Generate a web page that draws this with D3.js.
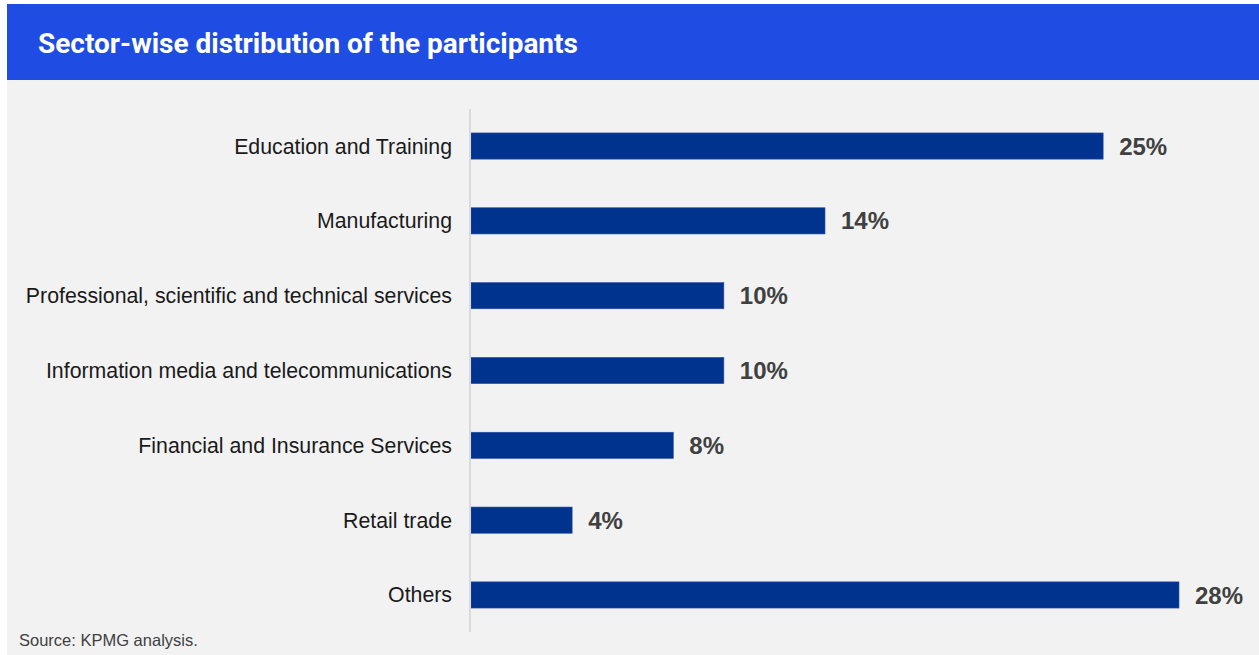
<!DOCTYPE html>
<html>
<head>
<meta charset="utf-8">
<script src="https://cdn.jsdelivr.net/npm/d3@7"></script>
<style>
  html, body { margin: 0; padding: 0; background: #ffffff; }
  svg { display: block; }
</style>
</head>
<body>
<svg id="chart" width="1259" height="655"></svg>
<script>
// Sector shares of survey participants (percent)
const sectors = [
  "Education and Training",
  "Manufacturing",
  "Professional, scientific and technical services",
  "Information media and telecommunications",
  "Financial and Insurance Services",
  "Retail trade",
  "Others"
];
const shares = [25, 14, 10, 10, 8, 4, 28];
const valueLabels = ["25%", "14%", "10%", "10%", "8%", "4%", "28%"];

const title = "Sector-wise distribution of the participants";
const source = "Source: KPMG analysis.";

const W = 1259, H = 655;
const svg = d3.select("#chart");

// panel background and header band
svg.append("rect").attr("x", 7).attr("y", 4).attr("width", W - 7).attr("height", H - 4)
  .attr("fill", "#f2f2f2");
svg.append("rect").attr("x", 7).attr("y", 4).attr("width", W - 7).attr("height", 76)
  .attr("fill", "#1f4ce3");
svg.append("text")
  .attr("x", 38).attr("y", 52.5)
  .attr("fill", "#ffffff")
  .attr("font-family", "Roboto, 'Liberation Sans', Arial, sans-serif")
  .attr("font-weight", 700)
  .attr("font-size", 28)
  .text(title);

// plot area
const x0 = 471;
const x = d3.scaleLinear().domain([0, 28]).range([x0, 1179]);
const y = d3.scaleBand().domain(sectors).range([109, 632]).paddingInner(0.65).paddingOuter(0.32);

const data = sectors.map((s, i) => ({ sector: s, value: shares[i], label: valueLabels[i] }));

svg.append("g").selectAll("rect").data(data).join("rect")
  .attr("x", x(0))
  .attr("y", d => y(d.sector))
  .attr("width", d => x(d.value) - x(0))
  .attr("height", y.bandwidth())
  .attr("fill", "#00338d")
  .attr("stroke", "#2a4fa6")
  .attr("stroke-width", 0.6);

// category axis on the left
const yAxis = d3.axisLeft(y).tickSize(0).tickPadding(18);
const gy = svg.append("g").attr("transform", `translate(${x0 - 1},0)`).call(yAxis);
gy.select(".domain").attr("stroke", "#d9d9d9").attr("stroke-width", 2)
  .attr("d", "M0,109V632");
gy.selectAll("text")
  .attr("font-family", "'Liberation Sans', Arial, sans-serif")
  .attr("font-size", 21.3)
  .attr("fill", "#1a1a1a")
  .attr("dy", "0.35em");

// value labels
svg.append("g").selectAll("text").data(data).join("text")
  .attr("x", d => x(d.value) + 16)
  .attr("y", d => y(d.sector) + y.bandwidth() / 2)
  .attr("dy", "0.36em")
  .attr("font-family", "'Liberation Sans', Arial, sans-serif")
  .attr("font-weight", 700)
  .attr("font-size", 24)
  .attr("fill", "#404040")
  .text(d => d.label);

// source note
svg.append("text")
  .attr("x", 19).attr("y", 646)
  .attr("font-family", "'Liberation Sans', Arial, sans-serif")
  .attr("font-size", 16.5)
  .attr("fill", "#404040")
  .text(source);
</script>
</body>
</html>
